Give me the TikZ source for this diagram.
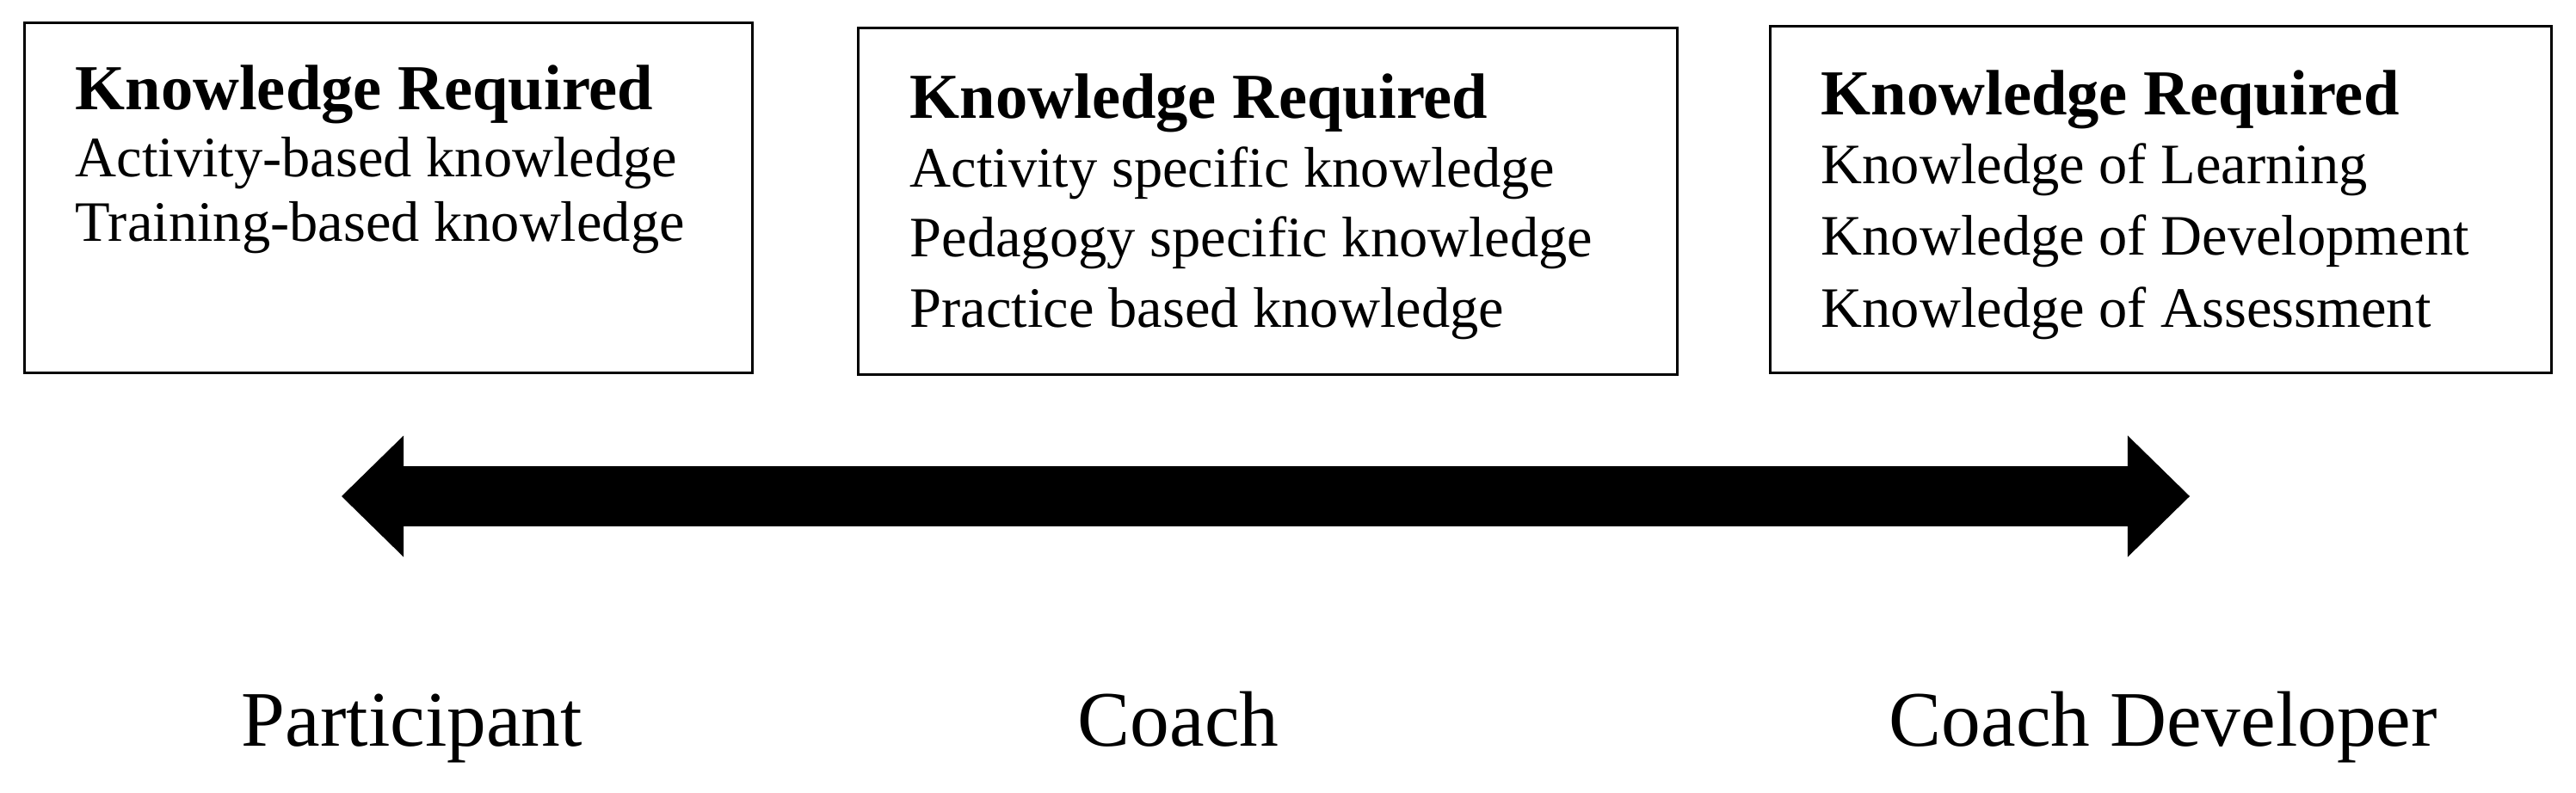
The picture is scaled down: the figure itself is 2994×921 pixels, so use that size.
\documentclass[tikz,border=0pt]{standalone}
\usepackage{fontspec}
\setmainfont{Liberation Serif}
\usepackage{tikz}
\usetikzlibrary{arrows.meta,positioning}

\begin{document}
\begin{tikzpicture}[
    x=0.01cm, y=-0.01cm,
    kbox/.style={rectangle, draw, line width=0.85pt, inner sep=0pt},
    ktitle/.style={anchor=base west, inner sep=0pt, font=\fontsize{21.2}{25}\selectfont\bfseries},
    kline/.style={anchor=base west, inner sep=0pt, font=\fontsize{18.9}{22}\selectfont},
    role/.style={anchor=base west, inner sep=0pt, font=\fontsize{26}{30}\selectfont},
    bigarrow/.style={line width=0.69cm, {Triangle[length=0.72cm, width=1.41cm, line width=0pt]}-{Triangle[length=0.72cm, width=1.41cm, line width=0pt]}}
]
    \useasboundingbox (0,0) rectangle (2994,921);

    % knowledge boxes
    \node[kbox, minimum width=8.45cm, minimum height=4.06cm] (partbox) at (451.5,230) {};
    \node[kbox, minimum width=9.51cm, minimum height=4.02cm] (coachbox) at (1473.5,234) {};
    \node[kbox, minimum width=9.07cm, minimum height=4.02cm] (devbox) at (2511.5,232) {};

    \node[ktitle] (parttitle) at (87,127) {Knowledge Required};
    \foreach \txt [count=\i] in {Activity-based knowledge, Training-based knowledge}
        \node[kline] (partline\i) at (87,{205+(\i-1)*75}) {\txt};

    \node[ktitle] (coachtitle) at (1057,137) {Knowledge Required};
    \foreach \txt [count=\i] in {Activity specific knowledge, Pedagogy specific knowledge, Practice based knowledge}
        \node[kline] (coachline\i) at (1057,{217+(\i-1)*81.5}) {\txt};

    \node[ktitle] (devtitle) at (2116,133) {Knowledge Required};
    \foreach \txt [count=\i] in {Knowledge of Learning, Knowledge of Development, Knowledge of Assessment}
        \node[kline] (devline\i) at (2116,{213+(\i-1)*83.5}) {\txt};

    % continuum
    \coordinate (leftend) at (397,577);
    \coordinate (rightend) at (2545,577);
    \draw[bigarrow] (leftend) -- (rightend);

    \node[role] (participant) at (280,867) {Participant};
    \node[role] (coach) at (1252,867) {Coach};
    \node[role] (developer) at (2195,867) {Coach Developer};
\end{tikzpicture}
\end{document}
